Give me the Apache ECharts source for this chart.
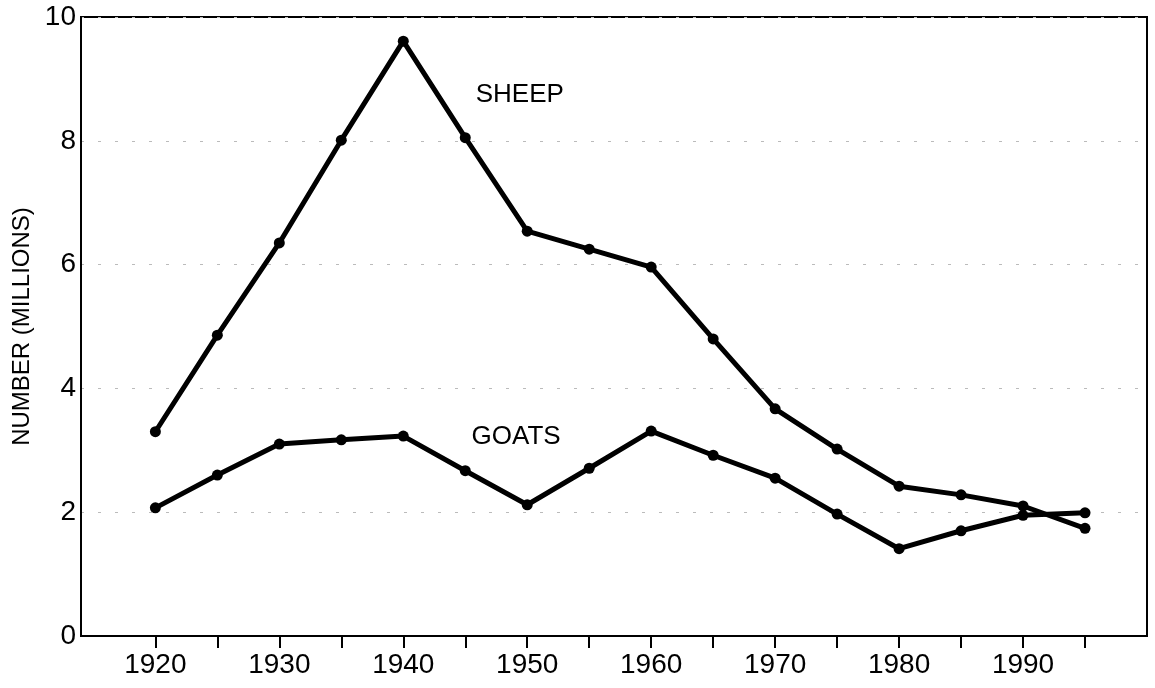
<!DOCTYPE html>
<html>
<head>
<meta charset="utf-8">
<script src="https://cdn.jsdelivr.net/npm/echarts@6/dist/echarts.min.js"></script>
<style>
  html, body { margin: 0; padding: 0; background: #fff; }
  #chart { width: 1155px; height: 688px; }
</style>
</head>
<body>
<div id="chart"></div>
<script>
var years = [1920, 1925, 1930, 1935, 1940, 1945, 1950, 1955, 1960, 1965, 1970, 1975, 1980, 1985, 1990, 1995];
var sheep = [3.30, 4.86, 6.35, 8.01, 9.61, 8.05, 6.54, 6.25, 5.96, 4.80, 3.67, 3.02, 2.42, 2.28, 2.10, 1.74];
var goats = [2.07, 2.60, 3.10, 3.17, 3.23, 2.67, 2.12, 2.71, 3.31, 2.92, 2.55, 1.97, 1.41, 1.70, 1.95, 1.99];
var yearLabels = [1920, 1930, 1940, 1950, 1960, 1970, 1980, 1990];

var font = 'Liberation Sans, Arial, sans-serif';

function pairs(vals) {
    return years.map(function(y, i) { return [y, vals[i]]; });
}

function lineSeries(name, vals, labelAt) {
    return {
        name: name,
        type: 'line',
        data: pairs(vals),
        symbol: 'circle',
        symbolSize: 11,
        lineStyle: { color: '#000', width: 5 },
        itemStyle: { color: '#000' },
        animation: false,
        markPoint: {
            symbol: 'circle',
            symbolSize: 0,
            data: [{ coord: labelAt, value: name }],
            label: {
                show: true,
                formatter: name,
                color: '#000',
                fontFamily: font,
                fontSize: 26
            }
        }
    };
}

var chart = echarts.init(document.getElementById('chart'));
chart.setOption({
    backgroundColor: '#fff',
    grid: {
        left: 81, right: 8, top: 17, bottom: 52,
        show: true,
        borderColor: '#000',
        borderWidth: 2
    },
    xAxis: {
        type: 'value',
        min: 1914,
        max: 2000,
        axisLine: { onZero: false, lineStyle: { color: '#000', width: 2 } },
        axisTick: {
            show: true,
            length: 12,
            lineStyle: { color: '#000', width: 2 },
            customValues: years
        },
        axisLabel: {
            customValues: yearLabels,
            formatter: function(v) { return String(v); },
            color: '#000',
            fontFamily: font,
            fontSize: 28,
            margin: 15
        },
        splitLine: { show: false }
    },
    yAxis: {
        type: 'value',
        min: 0,
        max: 10,
        interval: 2,
        name: 'NUMBER (MILLIONS)',
        nameLocation: 'middle',
        nameGap: 46,
        nameTextStyle: { color: '#000', fontFamily: font, fontSize: 24 },
        axisLine: { show: true, lineStyle: { color: '#000', width: 2 } },
        axisTick: { show: false },
        axisLabel: { color: '#000', fontFamily: font, fontSize: 28, margin: 5 },
        splitLine: {
            show: true,
            lineStyle: { color: '#bbb', type: [3, 14], width: 1 }
        }
    },
    series: [
        lineSeries('SHEEP', sheep, [1949.4, 8.74]),
        lineSeries('GOATS', goats, [1949.1, 3.21])
    ]
});
</script>
</body>
</html>
